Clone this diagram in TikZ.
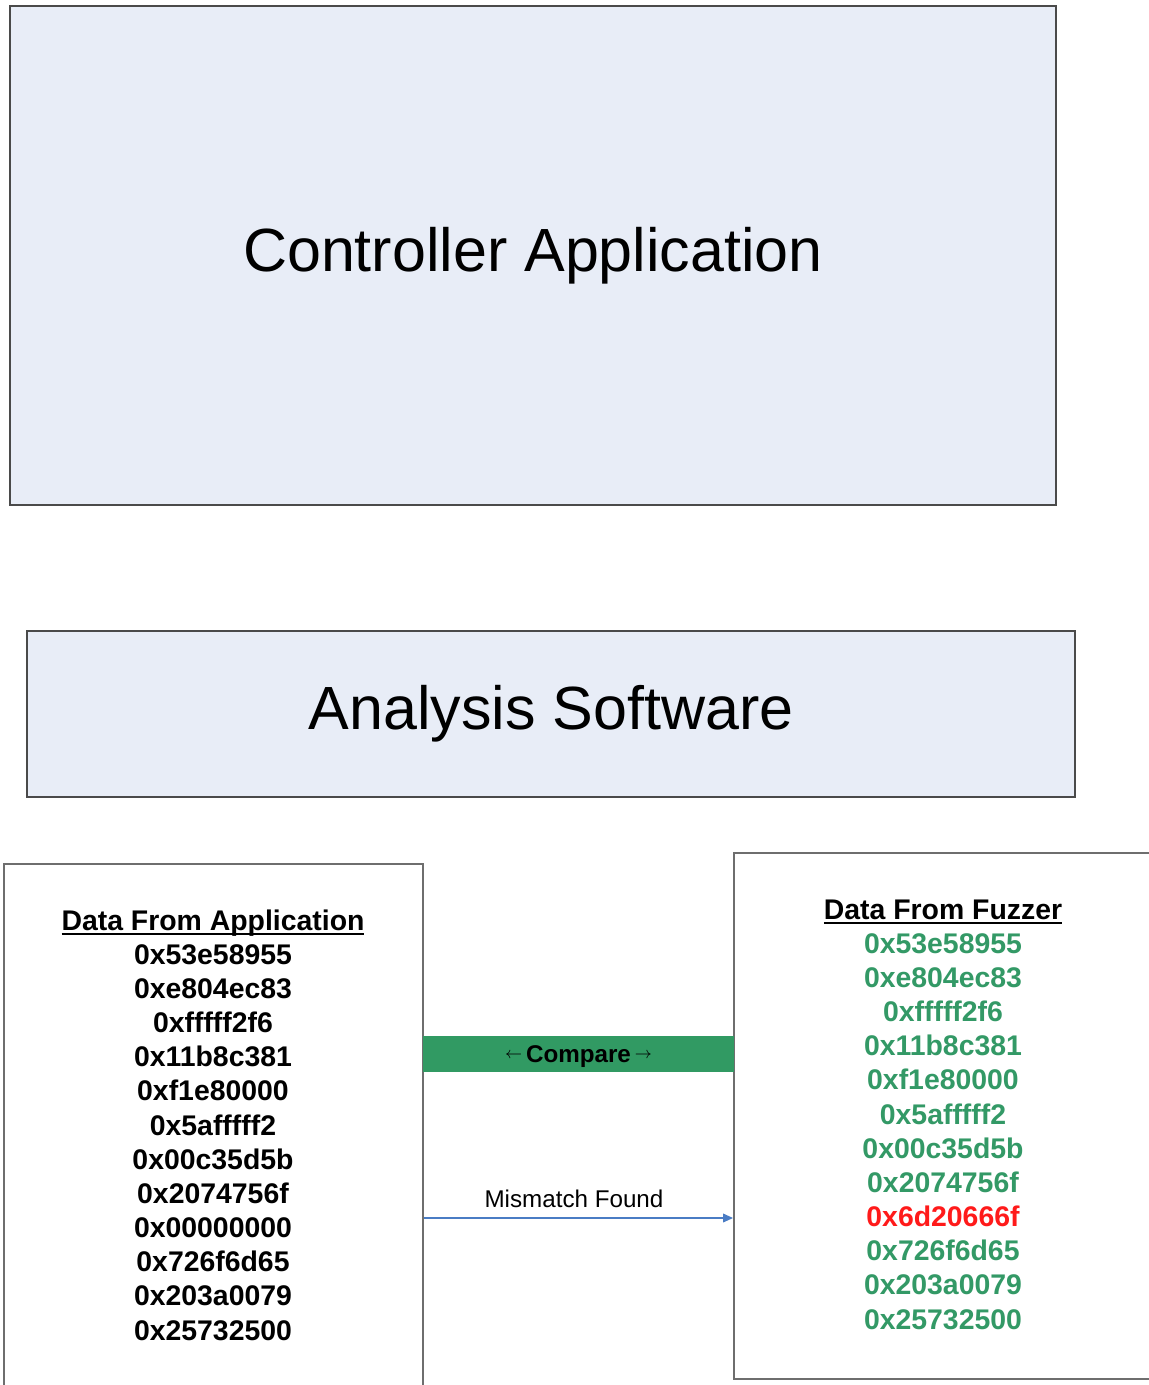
\documentclass[tikz,border=0pt]{standalone}
\usepackage{fontspec}
\setmainfont{Liberation Sans}
\usetikzlibrary{arrows.meta}
\definecolor{boxfill}{HTML}{E8EDF7}
\definecolor{boxline}{HTML}{4A4A4A}
\definecolor{listline}{HTML}{6E6E6E}
\definecolor{fzgreen}{HTML}{339966}
\definecolor{barg}{HTML}{319A63}
\definecolor{mmred}{HTML}{FF1A1A}
\definecolor{mmblue}{HTML}{4A7CC4}
\newcommand\myul[1]{\setbox0\hbox{#1}\rlap{\rule[-2.6pt]{\wd0}{1pt}}\box0}
\newcommand\smarr[1]{\raisebox{2pt}{\fontsize{8.5}{9}\selectfont$#1$}}
\tikzset{
  bigbox/.style={draw=boxline, line width=1pt, fill=boxfill, inner sep=0pt,
    font=\fontsize{30.5}{36}\selectfont},
  listbox/.style={draw=listline, line width=1pt, fill=white, inner sep=0pt},
  listtxt/.style={anchor=base, inner sep=0pt, font=\fontsize{14.2}{17}\selectfont\bfseries},
  bartxt/.style={anchor=base, inner sep=0pt, font=\fontsize{12.1}{14}\selectfont\bfseries},
  lbl/.style={inner sep=0pt, font=\fontsize{12.1}{14}\selectfont}
}
\begin{document}
\begin{tikzpicture}[x=0.5pt,y=-0.5pt]
\useasboundingbox (0,0) rectangle (1148,1385);
% top boxes
\node[bigbox, minimum width=523pt, minimum height=249.5pt] (ctrl) at (533,255.5) {Controller Application};
\node[bigbox, minimum width=524pt, minimum height=83pt] (ana) at (551,714) {Analysis Software};
% list boxes
\node[listbox, minimum width=209.5pt, minimum height=268pt] (app) at (213.5,1132) {};
\node[listbox, minimum width=213pt, minimum height=263pt] (fuz) at (947,1116) {};
% left list
\node[listtxt] (ah) at (213,930) {\myul{Data From Application}};
\foreach \t [count=\i] in {0x53e58955,0xe804ec83,0xfffff2f6,0x11b8c381,0xf1e80000,0x5afffff2,0x00c35d5b,0x2074756f,0x00000000,0x726f6d65,0x203a0079,0x25732500}{
  \node[listtxt] (a\i) at (213,{930+34.17*\i}) {\t};
}
% right list
\node[listtxt] (fh) at (943,919) {\myul{Data From Fuzzer}};
\foreach \t/\c [count=\i] in {0x53e58955/fzgreen,0xe804ec83/fzgreen,0xfffff2f6/fzgreen,0x11b8c381/fzgreen,0xf1e80000/fzgreen,0x5afffff2/fzgreen,0x00c35d5b/fzgreen,0x2074756f/fzgreen,0x6d20666f/mmred,0x726f6d65/fzgreen,0x203a0079/fzgreen,0x25732500/fzgreen}{
  \node[listtxt, text=\c] (f\i) at (943,{919+34.17*\i}) {\t};
}
% compare bar
\node[fill=barg, inner sep=0pt, minimum width=155.5pt, minimum height=18pt] (bar) at (578.5,1054) {};
\node[bartxt] (cmp) at (578.5,1062.5) {\smarr{\leftarrow}\hspace{2pt}Compare\hspace{2pt}\smarr{\rightarrow}};
% mismatch arrow
\coordinate (my) at (0,1218);
\draw[mmblue, line width=0.6pt, -{Triangle[length=5pt,width=4.4pt]}] (app.east |- my) -- (fuz.west |- my);
\node[lbl] (mmlbl) at (574,1199) {Mismatch Found};
\end{tikzpicture}
\end{document}
